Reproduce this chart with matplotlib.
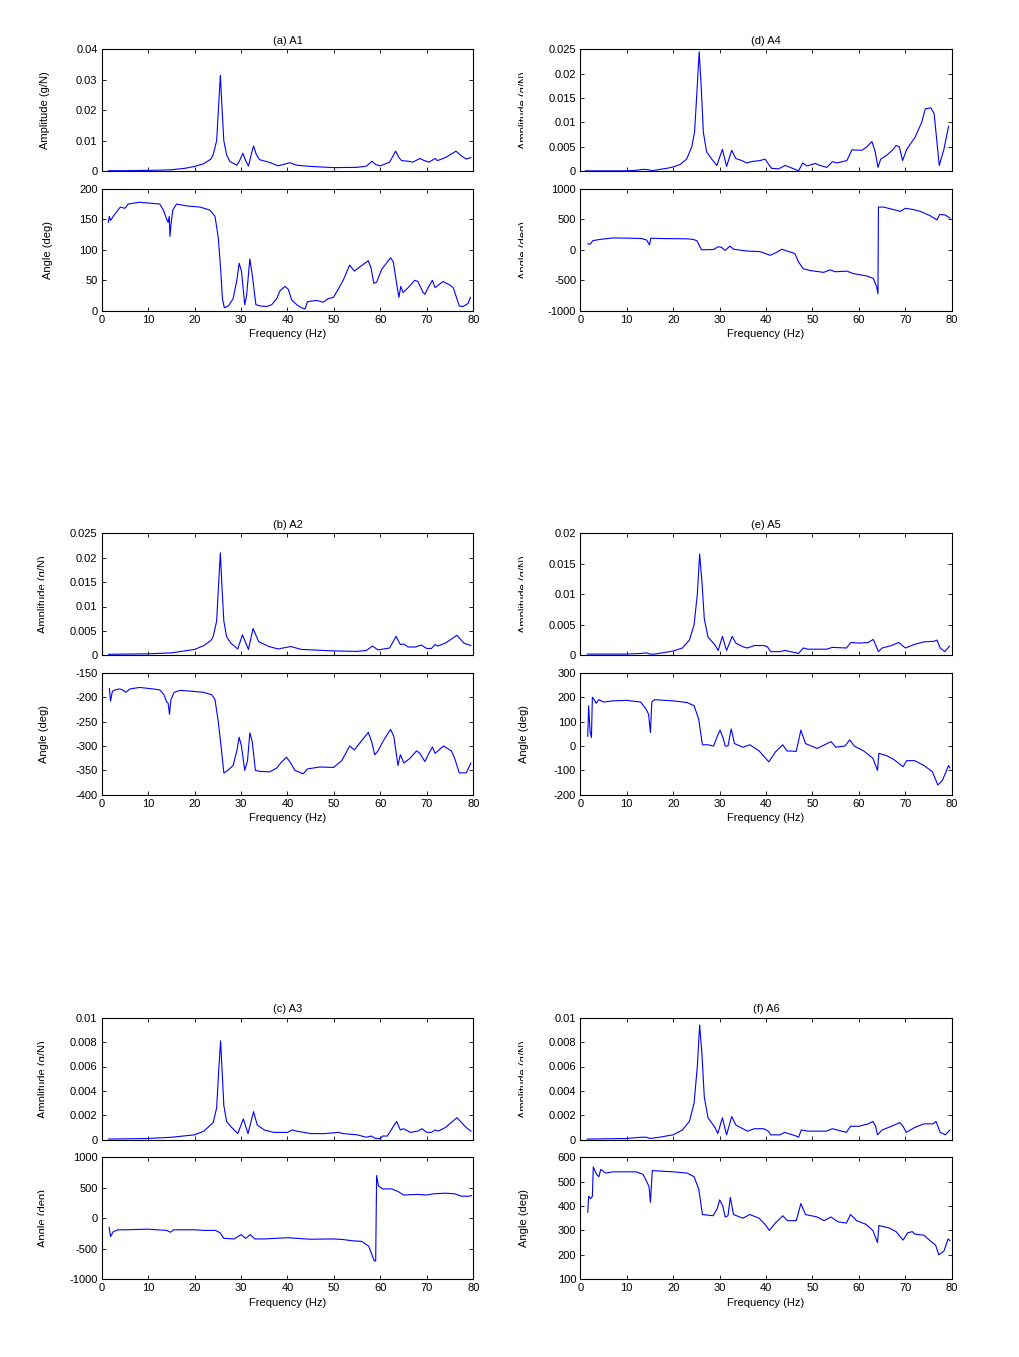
import matplotlib
matplotlib.use('Agg')
import matplotlib.pyplot as plt
import numpy as np
from matplotlib.ticker import FormatStrFormatter
from matplotlib.transforms import Bbox, TransformedBbox

##> Respostas em frequência (amplitude + fase) dos 6 acelerómetros

plt.rcParams['font.family'] = ['Liberation Sans', 'DejaVu Sans']
plt.rcParams['font.size'] = 8

# (frequência Hz, valor)
a1_amp = [(1.5, 0.0002), (5, 0.0002), (10, 0.0003), (13, 0.0004), (15, 0.0005), (18, 0.001),
          (20, 0.0016), (22, 0.0025), (23.5, 0.004), (24.0, 0.0054), (24.75, 0.01), (25.2, 0.022),
          (25.55, 0.0315), (25.9, 0.021), (26.3, 0.01), (26.9, 0.0054), (27.6, 0.0032), (28.5, 0.0025),
          (29.1, 0.002), (29.7, 0.0035), (30.4, 0.0059), (31.0, 0.0035), (31.6, 0.0017), (32.2, 0.0055),
          (32.7, 0.0083), (33.3, 0.0055), (34.0, 0.0038), (36.0, 0.003), (38.0, 0.0018), (40.5, 0.0028),
          (42.0, 0.002), (45.0, 0.0016), (50.0, 0.0012), (55.0, 0.0013), (57.0, 0.0017), (58.2, 0.0033),
          (59.0, 0.0022), (60.0, 0.0018), (62.0, 0.003), (63.3, 0.0066), (64.0, 0.0045), (64.6, 0.0035),
          (66.0, 0.0033), (67.0, 0.003), (68.5, 0.0042), (69.5, 0.0035), (70.5, 0.003), (71.8, 0.0042),
          (72.3, 0.0035), (74.0, 0.0045), (76.3, 0.0066), (77.5, 0.005), (78.5, 0.004), (79.5, 0.0045)]
a1_ang = [(1.4, 145), (1.65, 155), (1.9, 148), (2.5, 155), (4, 170), (5, 168), (5.7, 175), (8.2, 178),
          (11, 176), (12.5, 175), (13.3, 165), (14, 150), (14.3, 145), (14.55, 155), (14.7, 122),
          (14.9, 140), (15.3, 165), (16.1, 175), (18.3, 172), (21.2, 170), (23.3, 165), (24.4, 155),
          (25.1, 120), (25.6, 70), (26.0, 20), (26.4, 5), (27.3, 8), (28.3, 20), (29.1, 50), (29.6, 78),
          (30.1, 65), (30.8, 10), (31.2, 25), (31.9, 85), (32.4, 60), (33.2, 10), (34.1, 8), (35.5, 7),
          (36.6, 10), (37.7, 20), (38.4, 33), (39.5, 40), (40.2, 35), (40.9, 18), (42, 10), (43, 5),
          (43.8, 3), (44.3, 15), (46.3, 17), (47.7, 14), (48.8, 20), (49.9, 22), (50.9, 35), (52, 50),
          (53.4, 75), (54.4, 65), (55.6, 72), (57.4, 82), (58, 70), (58.6, 45), (59.2, 47), (60.3, 68),
          (61, 75), (62.2, 87), (62.8, 80), (63.5, 45), (64, 22), (64.4, 40), (64.9, 30), (66, 38),
          (67.4, 50), (68.1, 48), (69.2, 30), (69.6, 27), (70.3, 38), (71.2, 50), (71.8, 38), (73.5, 48),
          (75, 42), (75.7, 38), (77, 8), (77.8, 7), (78.9, 12), (79.4, 22)]

a2_amp = [(1.5, 0.0002), (10, 0.0003), (15, 0.0005), (20, 0.0012), (22, 0.002), (23.5, 0.003),
          (24.0, 0.0038), (24.75, 0.007), (25.2, 0.015), (25.55, 0.021), (25.9, 0.014), (26.3, 0.007),
          (26.9, 0.0038), (27.8, 0.0025), (29.3, 0.0013), (30.3, 0.0042), (31.6, 0.0012), (32.6, 0.0055),
          (33.8, 0.0028), (36, 0.0018), (38, 0.0013), (40.7, 0.0018), (43, 0.0012), (50, 0.0009),
          (55, 0.0008), (57, 0.001), (58.3, 0.0019), (59.5, 0.0011), (62, 0.0015), (63.4, 0.0039),
          (64.3, 0.0022), (65, 0.0023), (66, 0.0017), (67.5, 0.0017), (68.8, 0.0021), (70, 0.0014),
          (71, 0.0014), (71.8, 0.0022), (72.4, 0.0019), (74, 0.0025), (76.5, 0.0041), (78, 0.0025),
          (79.5, 0.002)]
a2_ang = [(1.65, -182), (1.9, -208), (2.3, -188), (2.9, -185), (3.9, -183), (4.7, -186), (5.2, -190),
          (6.1, -183), (8.2, -180), (11, -183), (12.5, -185), (13.4, -195), (14, -210), (14.3, -212),
          (14.6, -235), (14.9, -205), (15.6, -190), (16.9, -186), (19.7, -188), (21.9, -190), (23.7, -195),
          (24.4, -205), (25.1, -250), (25.7, -300), (26.3, -355), (26.9, -352), (28.3, -340), (29.1, -310),
          (29.6, -282), (30.1, -300), (30.8, -350), (31.4, -330), (31.9, -273), (32.4, -290), (33.1, -350),
          (34.1, -352), (36.2, -353), (37.7, -345), (38.7, -333), (39.8, -323), (40.7, -335), (41.6, -350),
          (43.4, -357), (44.3, -347), (47, -343), (49.9, -344), (51.7, -330), (53.4, -300), (54.4, -308),
          (57.4, -272), (58.1, -290), (58.8, -318), (59.5, -310), (60.6, -290), (62.2, -266), (62.9, -280),
          (63.8, -340), (64.3, -318), (65.1, -335), (66.4, -325), (67.8, -310), (68.5, -315), (69.6, -332),
          (70.3, -318), (71.2, -302), (71.8, -315), (73.6, -300), (75.3, -310), (76, -325), (77, -355),
          (78.5, -355), (79.5, -335)]

a3_amp = [(1.5, 0.00005), (10, 0.0001), (15, 0.0002), (20, 0.0004), (22, 0.0007), (24, 0.0014),
          (24.75, 0.0026), (25.2, 0.0057), (25.6, 0.0081), (25.95, 0.0055), (26.3, 0.0028), (26.9, 0.0015),
          (28, 0.001), (29.3, 0.0005), (30.5, 0.0017), (31.5, 0.0005), (32.7, 0.0023), (33.5, 0.0012),
          (35, 0.0008), (37, 0.0006), (40, 0.0006), (41, 0.0008), (42, 0.0007), (45, 0.0005), (48, 0.0005),
          (51, 0.0006), (52, 0.0005), (55, 0.0004), (57, 0.0002), (58, 0.0003), (59, 0.0001), (60, 0.0001),
          (60.5, 0.0003), (61.5, 0.0003), (62.5, 0.0009), (63.5, 0.0015), (64.3, 0.0008), (65, 0.0009),
          (66.5, 0.0006), (68, 0.0007), (69, 0.0009), (70, 0.0006), (71, 0.0006), (71.8, 0.0008),
          (72.5, 0.0007), (74, 0.001), (76.5, 0.0018), (77.5, 0.0014), (78.5, 0.001), (79.5, 0.0007)]
a3_ang = [(1.6, -150), (1.9, -300), (2.5, -220), (3.5, -190), (5, -190), (10, -180), (14, -200),
          (14.8, -230), (15.5, -190), (20, -190), (22, -200), (24.5, -200), (25.5, -240), (26.3, -330),
          (28.5, -340), (30, -270), (31, -330), (32, -270), (33, -340), (35, -340), (40, -320), (45, -345),
          (50, -340), (52, -350), (54, -370), (56, -380), (57.5, -460), (58.2, -600), (58.7, -700),
          (59, -700), (59.2, 700), (59.6, 530), (60.5, 480), (62.5, 480), (64, 430), (65, 380), (68, 390),
          (70, 380), (71.5, 400), (74, 410), (76, 400), (77.5, 360), (79, 360), (79.6, 370)]

a4_amp = [(1.1, 0.0001), (10, 0.0001), (12.1, 0.0002), (13.6, 0.0004), (14.7, 0.0003), (15.4, 0.0001),
          (17.2, 0.0004), (18.6, 0.0006), (20, 0.0009), (21.5, 0.0014), (22.9, 0.0025), (24, 0.005),
          (24.6, 0.008), (25.1, 0.016), (25.6, 0.0245), (26, 0.018), (26.5, 0.008), (27.2, 0.004),
          (28.3, 0.0025), (29.4, 0.0012), (30.6, 0.0045), (31.5, 0.001), (32.6, 0.0043), (33.5, 0.0026),
          (34.8, 0.0022), (35.8, 0.0017), (36.9, 0.002), (38.7, 0.0022), (39.8, 0.0025), (40.5, 0.0015),
          (41.2, 0.0006), (42.7, 0.0005), (44.1, 0.0012), (45.2, 0.0008), (47, 0.0001), (47.9, 0.0017),
          (48.8, 0.0011), (50.6, 0.0016), (51.6, 0.0012), (53.1, 0.0008), (54.3, 0.002), (55.2, 0.0017),
          (57.4, 0.0022), (58.5, 0.0044), (60.6, 0.0043), (61.7, 0.005), (62.8, 0.0061), (63.5, 0.004),
          (64.1, 0.0008), (64.7, 0.0025), (66, 0.0033), (67.4, 0.0045), (68, 0.0053), (68.7, 0.005),
          (69.4, 0.0022), (70.3, 0.0045), (72.1, 0.007), (73.5, 0.01), (74.3, 0.0128), (75.5, 0.013),
          (76.2, 0.0118), (76.8, 0.006), (77.3, 0.0012), (78.3, 0.0045), (79.3, 0.0092)]
a4_ang = [(1.65, 100), (2.1, 90), (2.7, 150), (4.2, 170), (7.1, 195), (10.7, 190), (13.2, 185),
          (14.3, 160), (14.9, 80), (15.2, 190), (17.2, 185), (22.9, 180), (24.3, 170), (25.1, 150),
          (26.1, 0), (28.7, 5), (29.7, 50), (30.4, 40), (31.2, -10), (32.2, 60), (33, 10), (35.8, -20),
          (38.7, -30), (40.9, -90), (42.3, -40), (43.4, 10), (44.5, -20), (46.2, -60), (47, -200),
          (48, -310), (49.5, -340), (52.4, -370), (53.8, -330), (54.9, -360), (57.4, -350), (58.8, -390),
          (61.7, -430), (63.1, -470), (63.8, -600), (64.1, -720), (64.2, 700), (65.3, 700), (67.4, 660),
          (68.9, 630), (70, 680), (71.7, 660), (73.2, 630), (75.3, 560), (76.8, 490), (77.4, 580),
          (78.6, 570), (79.6, 520)]

a5_amp = [(1.5, 0.0002), (10, 0.0002), (13, 0.0003), (14.2, 0.0004), (15, 0.0002), (16, 0.0002),
          (20, 0.0007), (22, 0.0012), (23.5, 0.0025), (24.5, 0.005), (25.2, 0.01), (25.7, 0.0166),
          (26.2, 0.012), (26.7, 0.006), (27.5, 0.003), (29, 0.0017), (29.7, 0.0008), (30.6, 0.0031),
          (31.5, 0.0008), (32.7, 0.0031), (33.5, 0.002), (35, 0.0014), (36, 0.0012), (37.5, 0.0016),
          (39.5, 0.0016), (40.3, 0.0014), (41, 0.0006), (43, 0.0006), (44, 0.0008), (46.5, 0.0004),
          (47, 0.0003), (48, 0.0012), (49, 0.001), (53, 0.001), (54.3, 0.0013), (57.3, 0.0012),
          (58.3, 0.0021), (60, 0.002), (62, 0.0021), (63.1, 0.0026), (63.7, 0.0015), (64.2, 0.0006),
          (65, 0.0012), (67, 0.0016), (68.6, 0.0021), (69.5, 0.0015), (70, 0.0012), (72, 0.0018),
          (74, 0.0022), (76.2, 0.0023), (76.8, 0.0025), (77.5, 0.0012), (78.5, 0.0006), (79.5, 0.0015)]
a5_ang = [(1.6, 40), (1.8, 165), (2.1, 60), (2.4, 35), (2.6, 200), (3, 190), (3.4, 175), (4, 190),
          (5, 180), (7, 185), (10, 187), (13, 180), (14.2, 150), (14.7, 130), (15.1, 55), (15.4, 180),
          (16, 190), (20, 185), (23, 178), (24.5, 165), (25.5, 110), (26.3, 5), (27.5, 5), (28.7, 0),
          (29.5, 40), (30.1, 65), (30.8, 30), (31.2, 0), (31.8, 0), (32.5, 70), (33.2, 10), (35, -5),
          (36.5, 5), (38.5, -20), (40.6, -65), (42, -25), (43.6, 5), (44.5, -20), (46.5, -22), (47.5, 65),
          (48.5, 10), (51, -10), (54, 18), (55, -5), (57, 0), (58, 25), (59, 0), (61, -20), (63, -50),
          (64, -100), (64.3, -30), (66, -40), (67.5, -55), (69.5, -85), (70.3, -60), (72, -60), (74, -80),
          (75.8, -105), (77, -160), (78, -140), (79.3, -80), (79.6, -90)]

a6_amp = [(1.5, 0.00005), (10, 0.0001), (13, 0.0002), (14.3, 0.0002), (15, 0.0001), (17, 0.0002),
          (20, 0.0004), (22, 0.0008), (23.5, 0.0015), (24.5, 0.003), (25.2, 0.006), (25.7, 0.0094),
          (26.2, 0.007), (26.7, 0.0035), (27.5, 0.0018), (29, 0.001), (29.6, 0.0005), (30.6, 0.0018),
          (31.5, 0.0004), (32.6, 0.0019), (33.5, 0.0012), (35, 0.0009), (36, 0.0007), (37.5, 0.0009),
          (39.5, 0.0009), (40.5, 0.0007), (41, 0.0004), (43, 0.0004), (44, 0.0006), (46.5, 0.0003),
          (47, 0.0002), (47.6, 0.0008), (49, 0.0007), (53, 0.0007), (54.3, 0.0009), (57.3, 0.0006),
          (58.2, 0.0011), (60, 0.0011), (62, 0.0013), (63, 0.0015), (63.6, 0.0011), (64, 0.0004),
          (65, 0.0008), (67, 0.0011), (68.8, 0.0014), (69.5, 0.0011), (70.2, 0.0006), (72, 0.001),
          (74, 0.0013), (76, 0.0013), (76.6, 0.0015), (77.5, 0.0006), (78.6, 0.0004), (79.6, 0.0008)]
a6_ang = [(1.6, 375), (1.8, 440), (2.2, 430), (2.6, 440), (2.8, 560), (3.5, 530), (4, 520), (4.4, 550),
          (5.5, 535), (7, 540), (12, 540), (13.5, 530), (14.3, 500), (14.8, 480), (15.1, 415), (15.5, 545),
          (20, 540), (23, 535), (24.5, 520), (25.5, 470), (26.3, 365), (28.6, 360), (29.5, 390), (30, 425),
          (30.7, 400), (31.2, 355), (31.8, 360), (32.3, 435), (33, 365), (35, 350), (36.5, 365), (38.5, 350),
          (40, 320), (40.7, 300), (42, 330), (43.6, 360), (44.6, 340), (46.5, 340), (47.5, 410), (48.5, 365),
          (51, 355), (52.5, 340), (54, 355), (55.5, 335), (57.3, 330), (58.2, 365), (59.5, 340), (61.5, 325),
          (63, 300), (64, 250), (64.3, 320), (66.5, 310), (68, 295), (69.5, 260), (70.5, 290), (71.5, 295),
          (72, 285), (74, 280), (75.5, 255), (76.5, 240), (77.2, 200), (78.3, 215), (79.2, 265), (79.6, 258)]

titles = ['(a) A1', '(b) A2', '(c) A3', '(d) A4', '(e) A5', '(f) A6']
amp_lims = [(0, 0.04, 0.01), (0, 0.025, 0.005), (0, 0.01, 0.002),
            (0, 0.025, 0.005), (0, 0.02, 0.005), (0, 0.01, 0.002)]
ang_lims = [(0, 200, 50), (-400, -150, 50), (-1000, 1000, 500),
            (-1000, 1000, 500), (-200, 300, 100), (100, 600, 100)]
amps = [a1_amp, a2_amp, a3_amp, a4_amp, a5_amp, a6_amp]
angs = [a1_ang, a2_ang, a3_ang, a4_ang, a5_ang, a6_ang]

#> layout em pixels (figura 1019x1357)
W, H = 1019, 1357
fig = plt.figure(figsize=(W / 100, H / 100), dpi=100)

col_left = [101.7, 580.3]
row_top = [49.3, 533.3, 1017.7]
ax_w, ax_h, gap = 371.5, 122, 17.5


def add_ax(left, top):
    return fig.add_axes([left / W, 1 - (top + ax_h) / H, ax_w / W, ax_h / H])


def style(ax, lims):
    lo, hi, step = lims
    ax.set_xlim(0, 80)
    ax.set_ylim(lo, hi)
    ax.set_xticks(np.arange(0, 81, 10))
    ax.set_yticks(np.arange(lo, hi + step / 2, step))
    ax.yaxis.set_major_formatter(FormatStrFormatter('%g'))
    ax.tick_params(direction='in', top=True, right=True, length=3, width=0.6, labelsize=8, pad=3)
    for s in ax.spines.values():
        s.set_linewidth(0.8)


def side_label(x, y, s, clip_right=None):
    t = fig.text(x / W, 1 - y / H, s, rotation=90, ha='center', va='center', fontsize=8)
    if clip_right is not None:
        bb = Bbox.from_extents(0, 0, clip_right / W, 1)
        t.set_clip_box(TransformedBbox(bb, fig.transFigure))
        t.set_clip_on(True)


for i in range(6):
    col, row = divmod(i, 3)
    top = row_top[row]
    left = col_left[col]
    ax1 = add_ax(left, top)
    ax2 = add_ax(left, top + ax_h + gap)

    f, v = np.array(amps[i]).T
    ax1.plot(f, v, color='blue', linewidth=0.8)
    style(ax1, amp_lims[i])
    ax1.tick_params(labelbottom=False)
    ax1.set_title(titles[i], fontsize=8, pad=4)

    f, v = np.array(angs[i]).T
    ax2.plot(f, v, color='blue', linewidth=0.8)
    style(ax2, ang_lims[i])
    ax2.set_xlabel('Frequency (Hz)', fontsize=8, labelpad=3)

# y labels (alguns aparecem cortados no original)
amp_mid = [r + ax_h / 2 for r in row_top]
ang_mid = [r + ax_h * 1.5 + gap for r in row_top]
side_label(45, amp_mid[0], 'Amplitude (g/N)')
side_label(48, ang_mid[0], 'Angle (deg)')
side_label(43, amp_mid[1], 'Amplitude (g/N)', clip_right=44)
side_label(44, ang_mid[1], 'Angle (deg)')
side_label(43, amp_mid[2], 'Amplitude (g/N)', clip_right=44)
side_label(43, ang_mid[2], 'Angle (deg)', clip_right=44)
side_label(524, amp_mid[0], 'Amplitude (g/N)', clip_right=523)
side_label(524, ang_mid[0], 'Angle (deg)', clip_right=523)
side_label(524, amp_mid[1], 'Amplitude (g/N)', clip_right=523)
side_label(524, ang_mid[1], 'Angle (deg)')
side_label(524, amp_mid[2], 'Amplitude (g/N)', clip_right=523)
side_label(524, ang_mid[2], 'Angle (deg)')

fig.savefig('out.png', dpi=100)
